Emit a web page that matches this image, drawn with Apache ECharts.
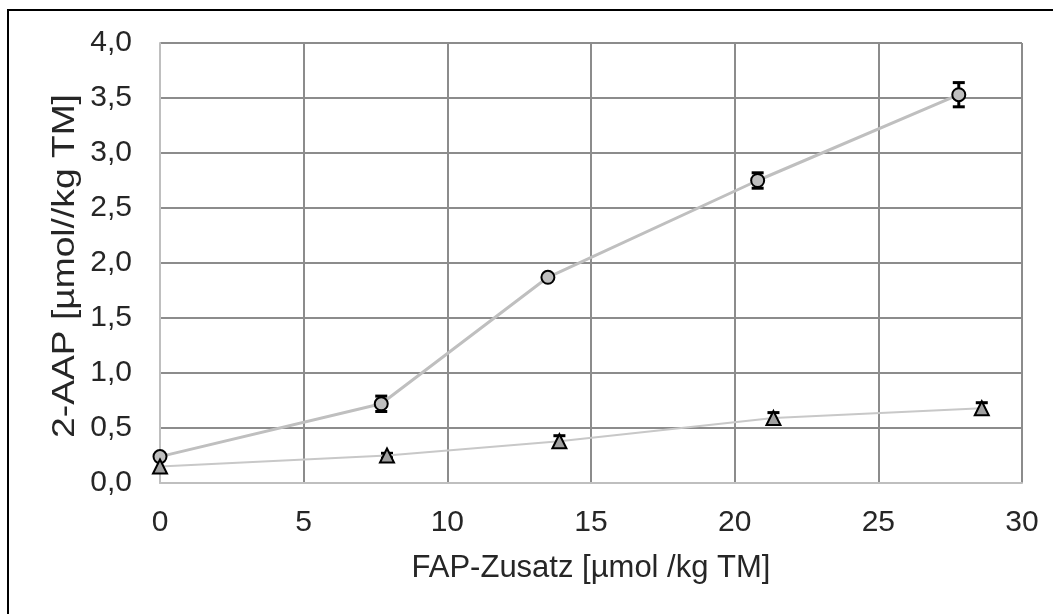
<!DOCTYPE html>
<html>
<head>
<meta charset="utf-8">
<script src="https://cdn.jsdelivr.net/npm/echarts@6/dist/echarts.min.js"></script>
<style>
  html, body { margin: 0; padding: 0; background: #fff; }
  #chart { width: 1053px; height: 614px; }
</style>
</head>
<body>
<div id="chart"></div>
<script>
// FAP addition (x) and resulting 2-AAP content (y), two sample series
const xCircle   = [0, 7.7, 13.5, 20.8, 27.8];
const yCircle   = [0.24, 0.72, 1.87, 2.75, 3.53];
const errCircle = [0.02, 0.07, 0.0, 0.07, 0.11];

const xTriangle   = [0, 7.9, 13.9, 21.35, 28.6];
const yTriangle   = [0.15, 0.25, 0.38, 0.59, 0.68];
const errTriangle = [0.0, 0.02, 0.05, 0.05, 0.05];

const xTicks = { min: 0, max: 30, interval: 5 };
const yTicks = { min: 0, max: 4, interval: 0.5 };

const xName = 'FAP-Zusatz [µmol /kg TM]';
const yName = '2-AAP [µmol//kg TM]';

const FONT = 'Liberation Sans, Arial, sans-serif';
const TEXT = '#262626';
const FS = 30;

function pairs(xs, ys) { return xs.map((x, i) => [x, ys[i]]); }
function errRows(xs, ys, es) { return xs.map((x, i) => [x, ys[i] - es[i], ys[i] + es[i]]); }

// vertical error bar with end caps
function errorBar(params, api) {
  const x = api.value(0);
  const lo = api.coord([x, api.value(1)]);
  const hi = api.coord([x, api.value(2)]);
  if (Math.abs(hi[1] - lo[1]) < 1) return null;
  const half = 6;
  const style = { stroke: '#000', lineWidth: 3 };
  return {
    type: 'group',
    children: [
      { type: 'line', shape: { x1: lo[0], y1: lo[1], x2: hi[0], y2: hi[1] }, style },
      { type: 'line', shape: { x1: lo[0] - half, y1: lo[1], x2: lo[0] + half, y2: lo[1] }, style },
      { type: 'line', shape: { x1: hi[0] - half, y1: hi[1], x2: hi[0] + half, y2: hi[1] }, style }
    ]
  };
}

const chart = echarts.init(document.getElementById('chart'), null, { renderer: 'canvas' });

chart.setOption({
  animation: false,
  backgroundColor: '#fff',
  graphic: [
    {
      type: 'rect',
      shape: { x: 8, y: 10, width: 1200, height: 800 },
      style: { fill: 'none', stroke: '#000', lineWidth: 2 },
      z: 0
    },
    {
      // vertical axis title, stretched slightly along its length
      type: 'text',
      x: 65,
      y: 266,
      rotation: Math.PI / 2,
      scaleX: 1.2,
      style: {
        text: yName,
        font: '31px ' + FONT,
        fill: TEXT,
        align: 'center',
        verticalAlign: 'middle'
      },
      z: 5
    }
  ],
  grid: { left: 160, right: 31, top: 43, bottom: 131, containLabel: false },
  xAxis: {
    type: 'value',
    min: xTicks.min, max: xTicks.max, interval: xTicks.interval,
    name: xName,
    nameLocation: 'middle',
    nameGap: 70,
    nameTextStyle: { fontFamily: FONT, fontSize: 31, color: TEXT },
    axisLine: { show: true, onZero: false, lineStyle: { color: '#bfbfbf', width: 2 } },
    axisTick: { show: false },
    axisLabel: { fontFamily: FONT, fontSize: FS, color: TEXT, margin: 25 },
    splitLine: { show: true, lineStyle: { color: '#8c8c8c', width: 2 } }
  },
  yAxis: {
    type: 'value',
    min: yTicks.min, max: yTicks.max, interval: yTicks.interval,
    axisLine: { show: true, lineStyle: { color: '#bfbfbf', width: 2 } },
    axisTick: { show: false },
    axisLabel: {
      fontFamily: FONT, fontSize: FS, color: TEXT, margin: 28,
      formatter: v => v.toFixed(1).replace('.', ',')
    },
    splitLine: { show: true, lineStyle: { color: '#8c8c8c', width: 2 } }
  },
  series: [
    {
      type: 'line',
      data: pairs(xCircle, yCircle),
      symbol: 'circle',
      symbolSize: 13,
      lineStyle: { color: '#bfbfbf', width: 3 },
      itemStyle: { color: '#bfbfbf', borderColor: '#000', borderWidth: 2 },
      z: 3
    },
    {
      type: 'line',
      data: pairs(xTriangle, yTriangle),
      symbol: 'triangle',
      symbolSize: 14,
      lineStyle: { color: '#c8c8c8', width: 2 },
      itemStyle: { color: '#a0a0a0', borderColor: '#000', borderWidth: 2 },
      z: 3
    },
    {
      type: 'custom',
      data: errRows(xCircle, yCircle, errCircle),
      renderItem: errorBar,
      encode: { x: 0, y: [1, 2] },
      z: 2
    },
    {
      type: 'custom',
      data: errRows(xTriangle, yTriangle, errTriangle),
      renderItem: errorBar,
      encode: { x: 0, y: [1, 2] },
      z: 2
    }
  ]
});
</script>
</body>
</html>
